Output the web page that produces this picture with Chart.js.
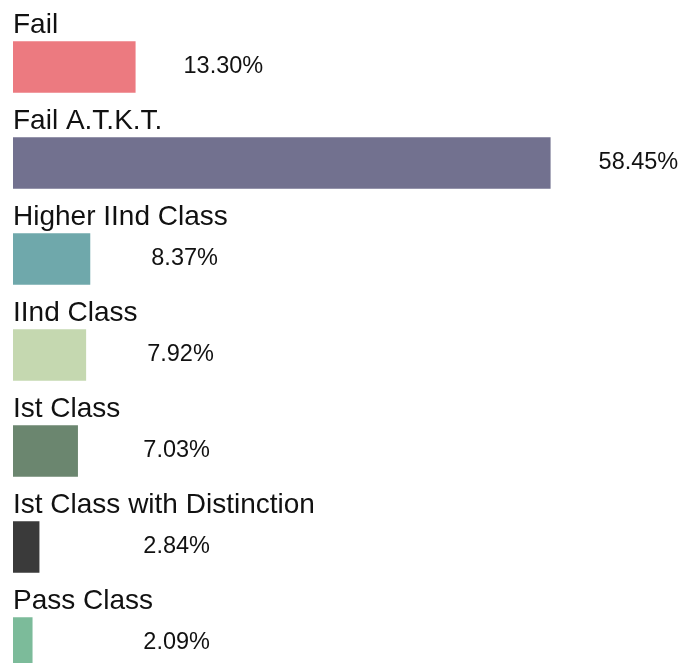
<!DOCTYPE html>
<html>
<head>
<meta charset="utf-8">
<script src="https://cdn.jsdelivr.net/npm/chart.js@4"></script>
<style>
    html, body { margin: 0; padding: 0; background: #fff; overflow: hidden; }
    #wrap { position: relative; width: 684px; height: 700px; }
</style>
</head>
<body>
<div id="wrap"><canvas id="resultChart"></canvas></div>
<script>
    // 결과 분포 데이터
    const categories = ['Fail', 'Fail A.T.K.T.', 'Higher IInd Class', 'IInd Class', 'Ist Class', 'Ist Class with Distinction', 'Pass Class'];
    const percents = [13.30, 58.45, 8.37, 7.92, 7.03, 2.84, 2.09];
    const barColors = ['#ec7a80', '#72718f', '#6fa8ab', '#c5d8b0', '#6b866f', '#3a3a3a', '#7cbb9a'];

    // 막대 위에 카테고리 이름, 오른쪽에 퍼센트 값 표시
    const barLabels = {
        id: 'barLabels',
        afterDatasetsDraw(chart) {
            const ctx = chart.ctx;
            const meta = chart.getDatasetMeta(0);
            ctx.save();
            ctx.fillStyle = '#111';
            meta.data.forEach((bar, i) => {
                const top = bar.y - bar.height / 2;
                ctx.font = '28px "Liberation Sans", Arial, sans-serif';
                ctx.textAlign = 'left';
                ctx.textBaseline = 'alphabetic';
                ctx.fillText(categories[i], chart.chartArea.left, top - 9);

                ctx.font = '23.5px "Liberation Sans", Arial, sans-serif';
                ctx.textAlign = 'right';
                ctx.textBaseline = 'middle';
                ctx.fillText(percents[i].toFixed(2) + '%', Math.max(bar.x + 128, 210), bar.y);
            });
            ctx.restore();
        }
    };

    const ctx = document.getElementById('resultChart').getContext('2d');
    const resultChart = new Chart(ctx, {
        type: 'bar',
        data: {
            labels: categories,
            datasets: [{
                data: percents,
                backgroundColor: barColors,
                borderWidth: 0,
                barThickness: 51
            }]
        },
        options: {
            indexAxis: 'y',
            responsive: true,
            maintainAspectRatio: false,
            animation: false,
            layout: {
                padding: { left: 13, right: 0, top: 19, bottom: 9 }
            },
            scales: {
                x: { display: false, min: 0, max: 73 },
                y: { display: false }
            },
            plugins: {
                legend: { display: false },
                tooltip: { enabled: false }
            }
        },
        plugins: [barLabels]
    });
</script>
</body>
</html>
